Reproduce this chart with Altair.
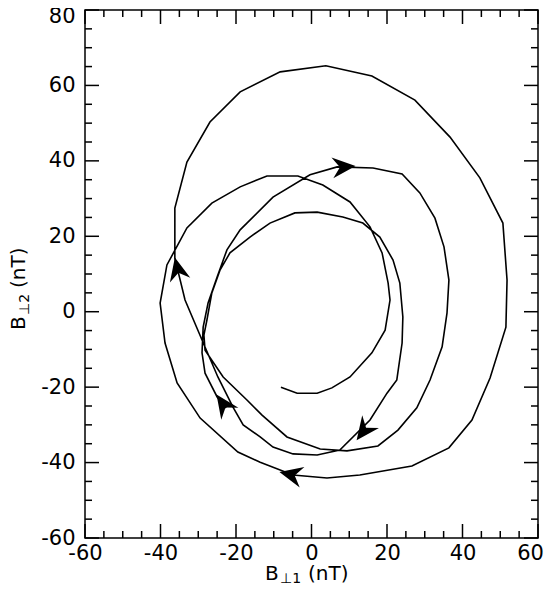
import altair as alt
import pandas as pd

# Hodogram trace (nT), in time order
bx = [-22.6, -25.0, -28.2, -29.0, -28.7, -27.4, -25.0, -22.4, -18.9, -10.2,
      -0.4, 6.8, 16.3, 24.0, 28.7, 32.7, 35.1, 36.4, 35.9, 34.6,
      31.4, 27.9, 22.9, 17.6, 9.4, 2.3, -6.5, -13.1, -17.1, -23.4,
      -28.2, -28.5, -27.7, -26.4, -24.2, -21.6, -16.3, -11.0, -4.4, 1.5,
      8.3, 13.6, 18.1, 21.6, 23.4, 24.2, 24.0, 22.6, 20.0, 15.5,
      7.5, 1.5, -4.9, -10.2, -13.6, -18.1, -20.8, -24.8, -29.0, -33.5,
      -36.2, -36.2, -33.0, -26.9, -18.9, -8.3, 3.8, 16.0, 27.4, 36.7,
      44.6, 50.7, 51.8, 51.5, 47.3, 42.5, 36.4, 26.6, 12.8, 4.1,
      -4.9, -13.6, -19.5, -29.5, -35.6, -38.8, -40.1, -38.3, -33.0, -26.4,
      -18.9, -11.8, -3.6, 3.0, 10.2, 15.5, 18.7, 20.3, 20.8, 19.5,
      16.0, 10.2, 5.4, 1.5, -3.8, -8.1]
by = [-25.5, -22.6, -16.3, -10.9, -4.1, 2.3, 9.2, 16.4, 21.7, 30.4,
      36.3, 38.4, 38.1, 36.5, 31.5, 24.8, 17.2, 8.4, -0.3, -9.3,
      -18.1, -25.5, -31.4, -35.6, -36.9, -36.4, -33.2, -27.4, -23.4, -17.3,
      -10.2, -6.2, -2.2, 5.0, 11.1, 15.6, 19.8, 23.5, 26.2, 26.4,
      25.1, 23.5, 19.8, 13.7, 7.6, -1.4, -8.3, -18.1, -21.6, -28.7,
      -36.7, -38.0, -37.7, -35.9, -33.2, -30.0, -25.3, -17.3, -7.5, 3.1,
      14.2, 27.5, 39.7, 50.3, 58.3, 63.6, 65.2, 62.5, 56.1, 46.3,
      35.5, 23.5, 8.4, -4.1, -17.6, -28.7, -36.1, -40.9, -43.3, -44.1,
      -43.3, -39.9, -37.2, -28.2, -18.9, -8.3, 2.3, 12.4, 22.2, 28.8,
      33.1, 36.0, 36.0, 33.6, 29.1, 22.5, 15.6, 7.6, 3.1, -4.9,
      -10.9, -17.3, -20.2, -21.6, -21.6, -20.0]

# Direction arrows along the trace
arrow_x = [8.6, 13.8, -5.5, -35.5, -23.4]
arrow_y = [38.4, -31.6, -43.2, 11.4, -24.5]
arrow_angle = [355, 127, 193, 257, 235]

x_major = [-60, -40, -20, 0, 20, 40, 60]
x_minor = [v for v in range(-60, 61, 5) if v % 20 != 0]
y_major = [-60, -40, -20, 0, 20, 40, 60, 80]
y_minor = [v for v in range(-60, 81, 5) if v % 20 != 0]

W, H = 453, 528
MAJ, MIN = 14, 7
FONT = "DejaVu Sans"

xs = alt.Scale(domain=[-60, 60], nice=False, zero=False)
ys = alt.Scale(domain=[-60, 80], nice=False, zero=False)

trace = pd.DataFrame({"i": list(range(len(bx))), "bx": bx, "by": by})
arrows = pd.DataFrame({"ax": arrow_x, "ay": arrow_y, "a": arrow_angle})

xaxis = alt.Axis(values=x_major, ticks=False, domain=False, grid=False,
                 labelFont=FONT, labelFontSize=21, labelColor="black",
                 labelPadding=4, labelFlush=False, labelOverlap=False, title=None,
                 labelExpr="'' + datum.value",
                 labelOffset={"condition": {"test": "datum.value == 60", "value": -8}, "value": 0})
yaxis = alt.Axis(values=y_major, ticks=False, domain=False, grid=False,
                 labelFont=FONT, labelFontSize=21, labelColor="black",
                 labelPadding=10, labelFlush=False, labelOverlap=False, title=None,
                 labelExpr="'' + datum.value",
                 labelOffset={"condition": {"test": "datum.value == 80", "value": 6}, "value": 0})

line = alt.Chart(trace).mark_line(color="black", strokeWidth=1.6).encode(
    x=alt.X("bx:Q", scale=xs, axis=xaxis, title=None),
    y=alt.Y("by:Q", scale=ys, axis=yaxis, title=None),
    order="i:Q",
)

arrow_shape = "M1,0L-1,-0.9L-0.35,0L-1,0.9Z"
heads = alt.Chart(arrows).mark_point(shape=arrow_shape, filled=True, color="black",
                                     opacity=1, size=540, strokeWidth=0).encode(
    x=alt.X("ax:Q", scale=xs, title=None),
    y=alt.Y("ay:Q", scale=ys, title=None),
    angle=alt.Angle("a:Q", scale=None),
)


def xticks(vals, length):
    df = pd.DataFrame({"v": vals})
    bottom = alt.Chart(df).mark_rule(color="black", strokeWidth=1.5).encode(
        x=alt.X("v:Q", scale=xs, title=None), y=alt.value(H), y2=alt.value(H - length))
    top = alt.Chart(df).mark_rule(color="black", strokeWidth=1.5).encode(
        x=alt.X("v:Q", scale=xs, title=None), y=alt.value(0), y2=alt.value(length))
    return [bottom, top]


def yticks(vals, length):
    df = pd.DataFrame({"w": vals})
    left = alt.Chart(df).mark_rule(color="black", strokeWidth=1.5).encode(
        y=alt.Y("w:Q", scale=ys, title=None), x=alt.value(0), x2=alt.value(length))
    right = alt.Chart(df).mark_rule(color="black", strokeWidth=1.5).encode(
        y=alt.Y("w:Q", scale=ys, title=None), x=alt.value(W), x2=alt.value(W - length))
    return [left, right]


def label(txt, x, y, size, angle=0):
    return alt.Chart(pd.DataFrame({"t": [txt]})).mark_text(
        align="left", baseline="alphabetic", font=FONT, fontSize=size,
        angle=angle, color="black").encode(
        text="t:N", x=alt.value(x), y=alt.value(y))


titles = [
    label("B", 180, 570, 20),
    label("\u22a51", 195, 573, 14),
    label("(nT)", 223, 570, 20),
    label("B", -60, 320, 20, 270),
    label("\u22a52", -56, 305, 14, 270),
    label("(nT)", -60, 278, 20, 270),
]

layers = (xticks(x_major, MAJ) + xticks(x_minor, MIN) +
          yticks(y_major, MAJ) + yticks(y_minor, MIN) +
          [line, heads] + titles)

chart = alt.layer(*layers).properties(
    width=W, height=H,
    padding={"left": 77, "top": 2, "right": 6, "bottom": 45},
    autosize=alt.AutoSizeParams(type="none"),
).configure_view(stroke="black", strokeWidth=1.5)

chart.save("out.html", embed_options={"renderer": "svg", "actions": False})
